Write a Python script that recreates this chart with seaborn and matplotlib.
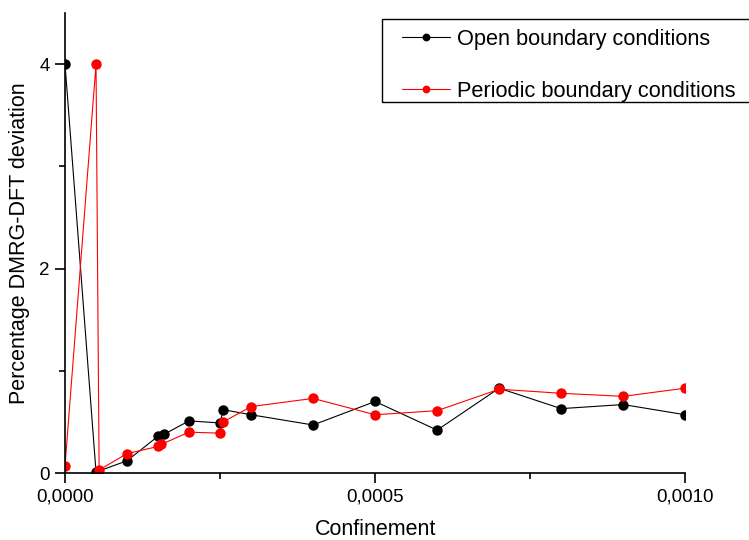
import numpy as np
import pandas as pd
import matplotlib
matplotlib.use("Agg")
import matplotlib.pyplot as plt
from matplotlib.patches import Rectangle
from matplotlib.ticker import FuncFormatter, MultipleLocator
import seaborn as sns

# Open boundary conditions
open_x = [0.0, 0.00005, 0.0001, 0.00015, 0.00016, 0.0002, 0.00025, 0.000255,
          0.0003, 0.0004, 0.0005, 0.0006, 0.0007, 0.0008, 0.0009, 0.001]
open_y = [4.0, 0.01, 0.12, 0.36, 0.38, 0.51, 0.49, 0.62,
          0.57, 0.47, 0.70, 0.42, 0.83, 0.63, 0.67, 0.57]

# Periodic boundary conditions
per_x = [0.0, 0.00005, 0.000055, 0.0001, 0.00015, 0.000155, 0.0002, 0.00025,
         0.000255, 0.0003, 0.0004, 0.0005, 0.0006, 0.0007, 0.0008, 0.0009, 0.001]
per_y = [0.07, 4.0, 0.03, 0.19, 0.26, 0.28, 0.40, 0.39,
         0.50, 0.65, 0.73, 0.57, 0.61, 0.82, 0.78, 0.75, 0.83]

labels = ["Open boundary conditions", "Periodic boundary conditions"]
colors = ["black", "red"]

df = pd.concat([
    pd.DataFrame({"x": open_x, "y": open_y, "series": labels[0]}),
    pd.DataFrame({"x": per_x, "y": per_y, "series": labels[1]}),
], ignore_index=True)

sns.set_style("ticks")
plt.rcParams["font.family"] = ["Liberation Sans", "DejaVu Sans"]
plt.rcParams["text.color"] = "black"
plt.rcParams["axes.labelcolor"] = "black"

W, H = 749, 540
fig = plt.figure(figsize=(W / 100, H / 100), dpi=100)
ax = fig.add_axes([0.0868, 0.124, 0.828, 0.852])

for lab, col in zip(labels, colors):
    sub = df[df["series"] == lab]
    sns.lineplot(data=sub, x="x", y="y", ax=ax, color=col, marker="o",
                 markersize=7.5, markeredgewidth=0, linewidth=0.8,
                 estimator=None, sort=False, label=lab)

ax.set_xlim(0, 0.001)
ax.set_ylim(0, 4.5)
ax.xaxis.set_major_locator(MultipleLocator(0.0005))
ax.xaxis.set_minor_locator(MultipleLocator(0.00025))
ax.yaxis.set_major_locator(MultipleLocator(2))
ax.yaxis.set_minor_locator(MultipleLocator(1))
ax.xaxis.set_major_formatter(FuncFormatter(lambda v, p: f"{v:.4f}".replace(".", ",")))
ax.yaxis.set_major_formatter(FuncFormatter(lambda v, p: f"{v:.0f}"))

sns.despine(ax=ax)
for s in ("left", "bottom"):
    ax.spines[s].set_linewidth(1.2)
    ax.spines[s].set_color("black")
ax.tick_params(which="major", direction="out", length=7, width=1.2,
               labelsize=13.5, colors="black", pad=4)
ax.tick_params(which="minor", direction="out", length=4.5, width=1.2, colors="black")

ax.set_xlabel("Confinement", fontsize=15.5, labelpad=10, color="black")
ax.set_ylabel("Percentage DMRG-DFT deviation", fontsize=15.5, labelpad=7, color="black")

# Legend entries without their own frame; a box runs off the right edge
leg = ax.legend(loc="upper left", bbox_to_anchor=(0.527, 0.987), borderaxespad=0,
                frameon=False, fontsize=15.7, labelspacing=1.42, handlelength=2.2,
                handletextpad=0.36, borderpad=0.45, markerscale=0.75)
for t in leg.get_texts():
    t.set_color("black")
fig.add_artist(Rectangle((382 / W, 1 - 102 / H), 400 / W, 83 / H,
                         transform=fig.transFigure, fill=False,
                         edgecolor="black", linewidth=1.0, clip_on=False))

fig.savefig("out.png", dpi=100)
